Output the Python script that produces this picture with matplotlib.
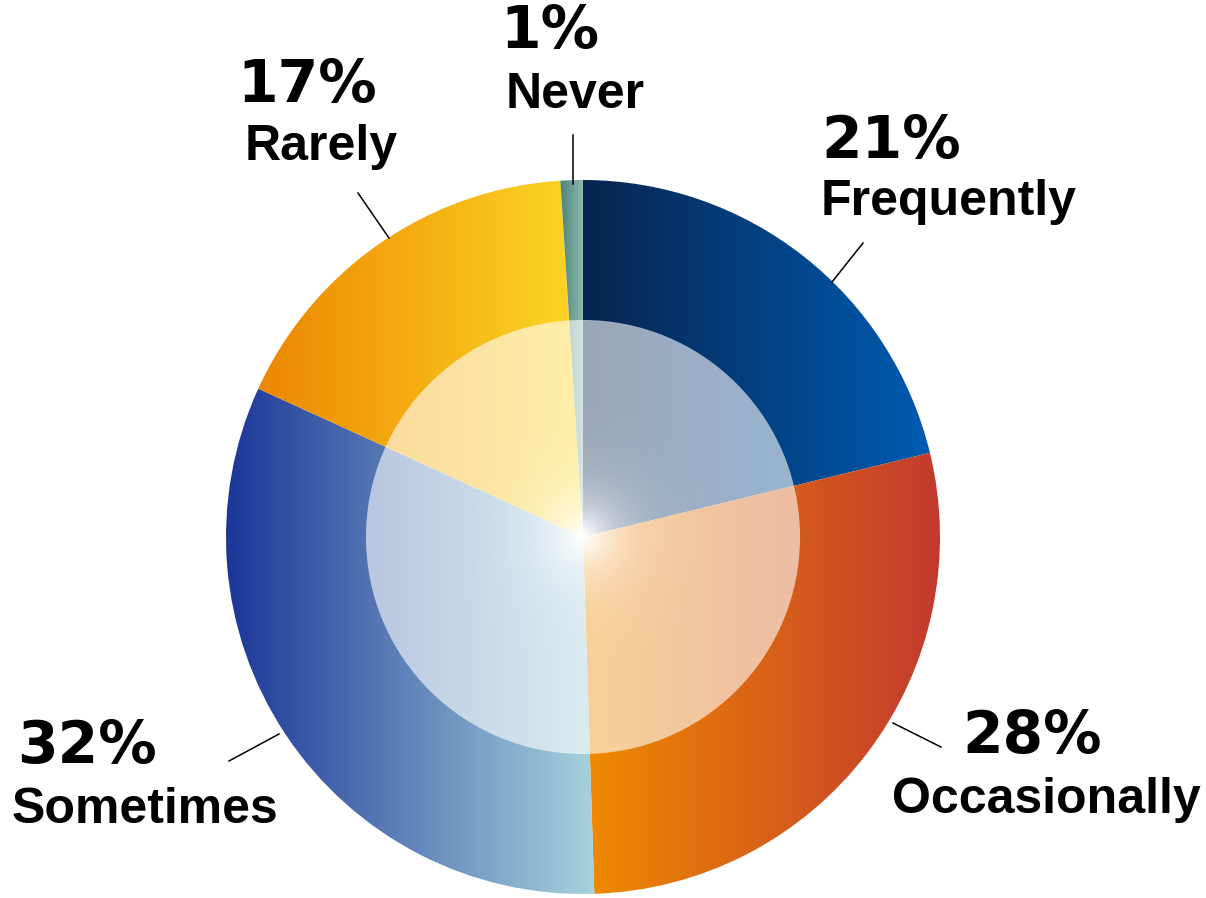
import numpy as np
import matplotlib.pyplot as plt
from matplotlib.colors import LinearSegmentedColormap
from matplotlib.patches import Circle

# survey shares, clockwise from 12 o'clock
labels = ["Frequently", "Occasionally", "Sometimes", "Rarely", "Never"]
shares = [21, 28, 32, 17, 1]

# left -> right gradient for each slice
grad_left = ["#07244f", "#ef8b00", "#1a3597", "#ec8600", "#4a8278"]
grad_right = ["#005cb2", "#c2392f", "#a6d2dc", "#fdd826", "#8fb8ae"]

# label placement in pixels: (x, baseline) for the percent and the word
pct_pos = [(821, 158), (962, 753), (17, 763), (237, 102), (500, 48)]
word_pos = [(821, 215), (892, 813), (12, 823), (245, 160), (506, 108)]
leaders = [((863, 243), (832, 282)),
           ((941, 747), (893, 723)),
           ((229, 761), (279, 734)),
           ((358, 193), (389, 238)),
           ((573, 135), (573, 184))]

W, H = 1206, 898
CX, CY, R = 583, 537, 357
INNER = 0.608

fig = plt.figure(figsize=(W / 100, H / 100), dpi=100)
ax = fig.add_axes([0, 0, 1, 1])


def to_data(px, py):
    return (px - CX) / R, (CY - py) / R


wedges, _ = ax.pie(shares, startangle=90, counterclock=False, radius=1,
                   wedgeprops=dict(linewidth=0, edgecolor="none"))

# pie() resets the limits, so set them afterwards
ax.set_xlim(-CX / R, (W - CX) / R)
ax.set_ylim(-(H - CY) / R, CY / R)
ax.set_aspect("equal")
ax.axis("off")

# fill each wedge with a horizontal gradient clipped to its shape
for w, c0, c1 in zip(wedges, grad_left, grad_right):
    w.set_facecolor("none")
    verts = w.get_path().vertices
    x0, x1 = verts[:, 0].min(), verts[:, 0].max()
    cmap = LinearSegmentedColormap.from_list("g", [c0, c1])
    grad = np.linspace(0, 1, 256).reshape(1, -1)
    im = ax.imshow(grad, cmap=cmap, extent=[x0, x1, -1.05, 1.05],
                   aspect="auto", interpolation="bicubic", zorder=1)
    im.set_clip_path(w)

# translucent inner disc with a bright glow at the centre
n = 400
gx, gy = np.meshgrid(np.linspace(-INNER, INNER, n), np.linspace(-INNER, INNER, n))
rr = np.hypot(gx, gy)
alpha = 0.6 + 0.4 * np.exp(-(rr / 0.1) ** 1.2)
rgba = np.ones((n, n, 4))
rgba[..., 3] = np.clip(alpha, 0, 1)
disc = Circle((0, 0), INNER, transform=ax.transData, facecolor="none", edgecolor="none")
ax.add_patch(disc)
glow = ax.imshow(rgba, extent=[-INNER, INNER, -INNER, INNER], origin="lower",
                 interpolation="bilinear", zorder=3, aspect="auto")
glow.set_clip_path(disc)

ax.set_xlim(-CX / R, (W - CX) / R)
ax.set_ylim(-(H - CY) / R, CY / R)

# leader lines
for (p0, p1) in leaders:
    a = to_data(*p0)
    b = to_data(*p1)
    ax.plot([a[0], b[0]], [a[1], b[1]], color="black", lw=1.1, zorder=4)

# labels
for lab, val, pp, wp in zip(labels, shares, pct_pos, word_pos):
    fig.text(pp[0] / W, 1 - pp[1] / H, f"{val}%", ha="left", va="baseline",
             fontsize=42, fontweight="heavy", family="DejaVu Sans", color="black")
    fig.text(wp[0] / W, 1 - wp[1] / H, lab, ha="left", va="baseline",
             fontsize=36, fontweight="bold", family="Liberation Sans", color="black")

fig.savefig("out.png", dpi=100, facecolor="white")
